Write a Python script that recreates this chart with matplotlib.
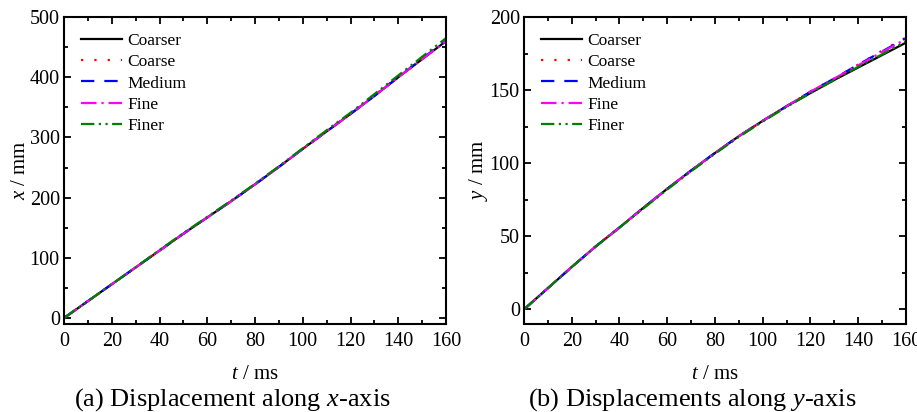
import matplotlib
matplotlib.use("Agg")
import matplotlib.pyplot as plt
from matplotlib.ticker import MultipleLocator

plt.rcParams['font.family'] = ['Liberation Serif', 'DejaVu Serif']
plt.rcParams['mathtext.fontset'] = 'custom'
plt.rcParams['mathtext.rm'] = 'Liberation Serif'
plt.rcParams['mathtext.it'] = 'Liberation Serif:italic'

# time steps (ms)
t = [0, 10, 20, 30, 40, 50, 60, 70, 80, 90, 100, 110, 120, 130, 140, 150, 160]

# displacement along x (mm)
x_coarser = [0, 28, 56, 84, 112, 140, 167, 194, 222, 251, 281, 310, 339, 369, 400, 430, 460]
x_coarse  = [0, 28, 56, 84, 112, 140, 167, 194, 222, 251, 281, 311, 340, 370, 401, 431, 461]
x_medium  = [0, 28, 56, 84, 112, 140, 167, 194, 222, 251, 281, 310, 339, 369, 400, 431, 461]
x_fine    = [0, 28, 56, 84, 112, 140, 167, 194, 222, 251, 281, 310, 339, 369, 400, 430, 460]
x_finer   = [0, 28, 56, 84, 113, 141, 168, 195, 223, 252, 282, 312, 341, 372, 403, 434, 465]

# displacement along y (mm)
y_coarser = [0, 14.5, 29, 43, 56, 69.5, 82.5, 95, 107, 118.5, 129, 139, 148, 157, 165.5, 174, 182.5]
y_coarse  = [0, 14.5, 29, 43, 56, 69.5, 82.5, 95, 107, 118.5, 129, 139, 149, 158, 167.5, 177, 186]
y_medium  = [0, 14.5, 29, 43, 56, 69.5, 82.5, 95, 107, 118.5, 129, 139, 149, 158, 167.5, 176.5, 185.5]
y_fine    = [0, 14.5, 29, 43, 56, 69.5, 82.5, 95, 107, 118.5, 129, 139, 149, 158, 167, 176, 185]
y_finer   = [0, 14.5, 29, 43, 56, 69, 82, 94.5, 106.5, 118, 128.5, 138.5, 148, 157, 166, 174.5, 183.5]

labels = ['Coarser', 'Coarse', 'Medium', 'Fine', 'Finer']
colors = ['black', 'red', 'blue', 'magenta', 'green']
styles = ['-', (0, (1, 5)), (0, (6, 4.5)), (0, (7, 2.2, 1, 2.2)), (0, (6, 2, 1, 2, 1, 2))]

fig = plt.figure(figsize=(9.17, 4.12), dpi=100)
ax1 = fig.add_axes([0.0698, 0.2136, 0.4166, 0.745])
ax2 = fig.add_axes([0.5714, 0.2136, 0.4166, 0.745])

panels = [
    (ax1, [x_coarser, x_coarse, x_medium, x_fine, x_finer], (-10, 500), 100, 50, r'$x$ / mm'),
    (ax2, [y_coarser, y_coarse, y_medium, y_fine, y_finer], (-10, 200), 50, 25, r'$y$ / mm'),
]

for ax, series, ylim, ymaj, ymin, ylab in panels:
    for s, lab, c, ls in zip(series, labels, colors, styles):
        ax.plot(t, s, color=c, linestyle=ls, lw=1.6, label=lab)
    ax.set_xlim(0, 160)
    ax.set_ylim(*ylim)
    ax.xaxis.set_major_locator(MultipleLocator(20))
    ax.xaxis.set_minor_locator(MultipleLocator(10))
    ax.yaxis.set_major_locator(MultipleLocator(ymaj))
    ax.yaxis.set_minor_locator(MultipleLocator(ymin))
    ax.tick_params(which='both', direction='in', top=True, right=True, width=1.3, labelsize=14.5)
    ax.tick_params(which='major', length=5)
    ax.tick_params(which='minor', length=3)
    ax.tick_params(axis='x', pad=6)
    ax.tick_params(axis='y', pad=3)
    for sp in ax.spines.values():
        sp.set_linewidth(1.5)
    ax.set_xlabel(r'$t$ / ms', fontsize=15, labelpad=10)
    ax.set_ylabel(ylab, fontsize=15, labelpad=0)
    ax.legend(loc='upper left', frameon=False, fontsize=12.5, handlelength=2.4,
              handletextpad=0.3, labelspacing=0.3, borderaxespad=0.5,
              bbox_to_anchor=(0.003, 1.0))

fig.text(232 / 917, 0.03, r'(a) Displacement along $x$-axis', fontsize=19, ha='center', va='center')
fig.text(692 / 917, 0.03, r'(b) Displacements along $y$-axis', fontsize=19, ha='center', va='center')

fig.savefig('out.png', dpi=100)
